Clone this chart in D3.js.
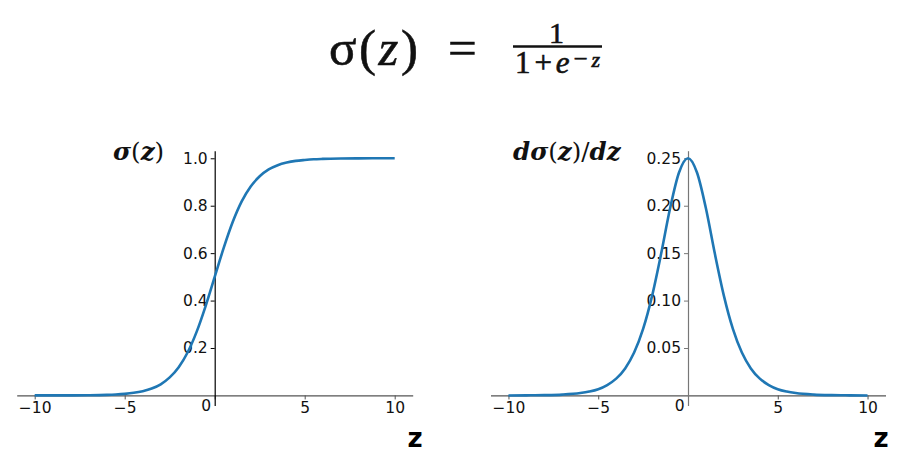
<!DOCTYPE html>
<html>
<head>
<meta charset="utf-8">
<script src="https://cdn.jsdelivr.net/npm/d3@7"></script>
<style>
  html, body { margin: 0; padding: 0; background: #fff; }
  svg { display: block; }
  .tick text { font-family: "DejaVu Sans", sans-serif; font-size: 15.5px; fill: #111; }
</style>
</head>
<body>
<svg id="chart" width="908" height="462"></svg>
<script>
// ---- data ----
const zValues = [-10, -9, -8, -7, -6, -5.5, -5, -4.5, -4, -3.5, -3, -2.5, -2, -1.5, -1, -0.5,
                 0, 0.5, 1, 1.5, 2, 2.5, 3, 3.5, 4, 4.5, 5, 5.5, 6, 7, 8, 9, 10];
const sigmaValues = [0.0000, 0.0001, 0.0003, 0.0009, 0.0025, 0.0041, 0.0067, 0.011, 0.018, 0.029,
                     0.047, 0.076, 0.119, 0.182, 0.269, 0.378,
                     0.500, 0.622, 0.731, 0.818, 0.881, 0.924, 0.953, 0.971, 0.982, 0.989,
                     0.993, 0.996, 0.9975, 0.9991, 0.9997, 0.9999, 1.0000];
const dSigmaValues = [0.0000, 0.0001, 0.0003, 0.0009, 0.0025, 0.0041, 0.0066, 0.011, 0.0177, 0.0285,
                      0.0452, 0.0701, 0.105, 0.149, 0.197, 0.235,
                      0.250, 0.235, 0.197, 0.149, 0.105, 0.0701, 0.0452, 0.0285, 0.0177, 0.011,
                      0.0066, 0.0041, 0.0025, 0.0009, 0.0003, 0.0001, 0.0000];
const xTicks = [-10, -5, 0, 5, 10];
const xTickLabels = ["\u221210", "\u22125", "0", "5", "10"];
const leftYTicks = [0.2, 0.4, 0.6, 0.8, 1.0];
const leftYTickLabels = ["0.2", "0.4", "0.6", "0.8", "1.0"];
const rightYTicks = [0.05, 0.10, 0.15, 0.20, 0.25];
const rightYTickLabels = ["0.05", "0.10", "0.15", "0.20", "0.25"];

const svg = d3.select("#chart");
const blue = "#1f77b4";

// ---- formula on top ----
const f = svg.append("g").attr("font-family", "'Liberation Serif', 'Times New Roman', serif")
  .attr("fill", "#111").attr("stroke", "#111").attr("stroke-width", 0.6);
const lhs = f.append("text").attr("x", 329).attr("y", 65).attr("font-size", 51)
  .attr("textLength", 89).attr("lengthAdjust", "spacing");
lhs.append("tspan").text("σ(");
lhs.append("tspan").attr("font-style", "italic").text("z");
lhs.append("tspan").text(")");
f.append("text").attr("x", 462.5).attr("y", 65).attr("font-size", 51).attr("text-anchor", "middle").text("=");
f.append("text").attr("x", 556.5).attr("y", 43).attr("font-size", 30).attr("text-anchor", "middle").text("1");
f.append("line").attr("x1", 513).attr("x2", 602).attr("y1", 46.5).attr("y2", 46.5).attr("stroke-width", 2.5);
const den = f.append("text").attr("x", 515).attr("y", 73).attr("font-size", 31)
  .attr("textLength", 85).attr("lengthAdjust", "spacing");
den.append("tspan").text("1+");
den.append("tspan").attr("font-style", "italic").text("e");
den.append("tspan").attr("font-size", 25).attr("dy", -6).text("\u2212");
den.append("tspan").attr("font-size", 22).attr("font-style", "italic").text("z");

// ---- panel builder ----
function panel(opt) {
  const x = d3.scaleLinear().domain([-11, 11]).range(opt.xRange);
  const y = d3.scaleLinear().domain(opt.yDomain).range([405.5, 150.7]);
  const g = svg.append("g");

  const xAxis = d3.axisBottom(x).tickValues(xTicks)
    .tickFormat((d, i) => xTickLabels[i]).tickSize(4).tickSizeOuter(0).tickPadding(3);
  const xg = g.append("g").attr("transform", `translate(0,${y(0)})`).call(xAxis);
  xg.select(".domain").attr("stroke", opt.xAxisColor).attr("stroke-width", 1.2);
  xg.selectAll(".tick line").attr("stroke", opt.xAxisColor);
  xg.selectAll(".tick text").filter(d => d === 0)
    .attr("text-anchor", "end").attr("x", -4).attr("dy", "0.55em");

  const yAxis = d3.axisLeft(y).tickValues(opt.yTicks)
    .tickFormat((d, i) => opt.yTickLabels[i]).tickSize(4).tickSizeOuter(0).tickPadding(opt.yPad);
  const yg = g.append("g").attr("transform", `translate(${x(0)},0)`).call(yAxis);
  yg.select(".domain").attr("stroke", opt.yAxisColor).attr("stroke-width", 1.2);
  yg.selectAll(".tick line").attr("stroke", opt.yAxisColor);

  const line = d3.line().x((d, i) => x(zValues[i])).y(d => y(d)).curve(d3.curveMonotoneX);
  g.append("path").datum(opt.values).attr("d", line)
    .attr("fill", "none").attr("stroke", blue).attr("stroke-width", 2.6);

  // y title (math style)
  const t = g.append("text").attr("x", opt.titleX).attr("y", 160)
    .attr("font-family", "'DejaVu Serif', serif").attr("font-weight", "bold")
    .attr("font-style", "italic").attr("font-size", 24.5).attr("fill", "#111");
  opt.title.forEach(p => {
    const s = t.append("tspan").text(p.t);
    if (p.upright) s.attr("font-style", "normal").attr("font-weight", "normal");
  });

  // x label
  g.append("text").attr("x", opt.zX).attr("y", 447)
    .attr("font-family", "'DejaVu Sans', sans-serif").attr("font-weight", "bold")
    .attr("font-size", 26).attr("fill", "#000").attr("text-anchor", "middle").text("z");
}

panel({
  xRange: [16.7, 412.7], yDomain: [-0.0425, 1.032],
  yTicks: leftYTicks, yTickLabels: leftYTickLabels, yPad: 3,
  values: sigmaValues, xAxisColor: "#555", yAxisColor: "#000",
  titleX: 113, title: [{t: "σ"}, {t: "(", upright: true}, {t: "z"}, {t: ")", upright: true}],
  zX: 415
});
panel({
  xRange: [490.5, 885.5], yDomain: [-0.0106, 0.258],
  yTicks: rightYTicks, yTickLabels: rightYTickLabels, yPad: 3,
  values: dSigmaValues, xAxisColor: "#555", yAxisColor: "#777",
  titleX: 513, title: [{t: "d"}, {t: "σ"}, {t: "(", upright: true}, {t: "z"}, {t: ")", upright: true}, {t: "/", upright: true}, {t: "dz"}],
  zX: 881
});
</script>
</body>
</html>
